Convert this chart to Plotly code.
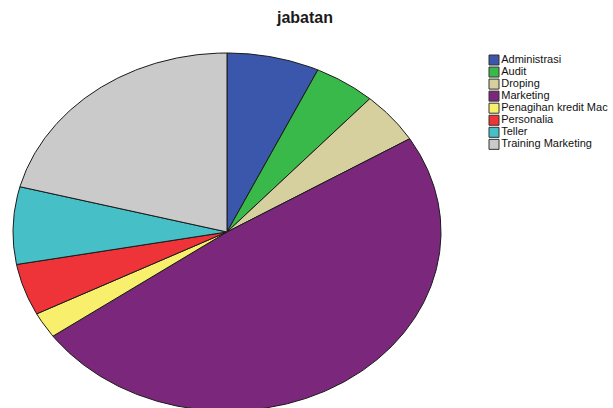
import numpy as np
import plotly.graph_objects as go

categories = ["Administrasi", "Audit", "Droping", "Marketing",
              "Penagihan kredit Mac", "Personalia", "Teller", "Training Marketing"]
counts = [3, 2, 2, 21, 1, 2, 3, 9]
colors = ["#3b57ab", "#3ab94b", "#d6cf9e", "#7b287c",
          "#f8f06c", "#ee3439", "#47bfc7", "#cacaca"]

W, H = 613, 408
# ellipse geometry (pixel space)
cx, cy, rx, ry = 227, 232, 214, 179

fig = go.Figure()

total = float(sum(counts))
start = 0.0
for name, v, c in zip(categories, counts, colors):
    frac = v / total
    t = np.linspace(start, start + frac, max(8, int(frac * 720))) * 2 * np.pi
    xs = np.concatenate([[cx], cx + rx * np.sin(t), [cx]])
    ys = np.concatenate([[cy], cy - ry * np.cos(t), [cy]])
    fig.add_trace(go.Scatter(x=xs, y=ys, mode="lines", fill="toself",
                             fillcolor=c, line=dict(color="#1a1a1a", width=1),
                             name=name, showlegend=False, hoverinfo="name"))
    start += frac

# legend drawn as marker+text trace
leg_x0, leg_y0, leg_dy = 494, 60, 12.05
fig.add_trace(go.Scatter(
    x=[leg_x0] * len(categories),
    y=[leg_y0 + i * leg_dy for i in range(len(categories))],
    mode="markers+text",
    marker=dict(symbol="square", size=10, color=colors,
                line=dict(color="#333333", width=1)),
    text=categories, textposition="middle right",
    textfont=dict(family="Liberation Sans, Arial", size=11, color="#111111"),
    showlegend=False, hoverinfo="skip"))

fig.update_layout(
    width=W, height=H,
    margin=dict(l=0, r=0, t=0, b=0),
    paper_bgcolor="white", plot_bgcolor="white",
    showlegend=False,
    title=dict(text="<b>jabatan</b>", x=305 / W, xanchor="center",
               y=1 - 17 / H, yanchor="middle",
               font=dict(family="Liberation Sans, Arial", size=16, color="#1a1a1a")),
    xaxis=dict(range=[0, W], visible=False, fixedrange=True),
    yaxis=dict(range=[H, 0], visible=False, fixedrange=True),
)

fig.write_html("out.html")
